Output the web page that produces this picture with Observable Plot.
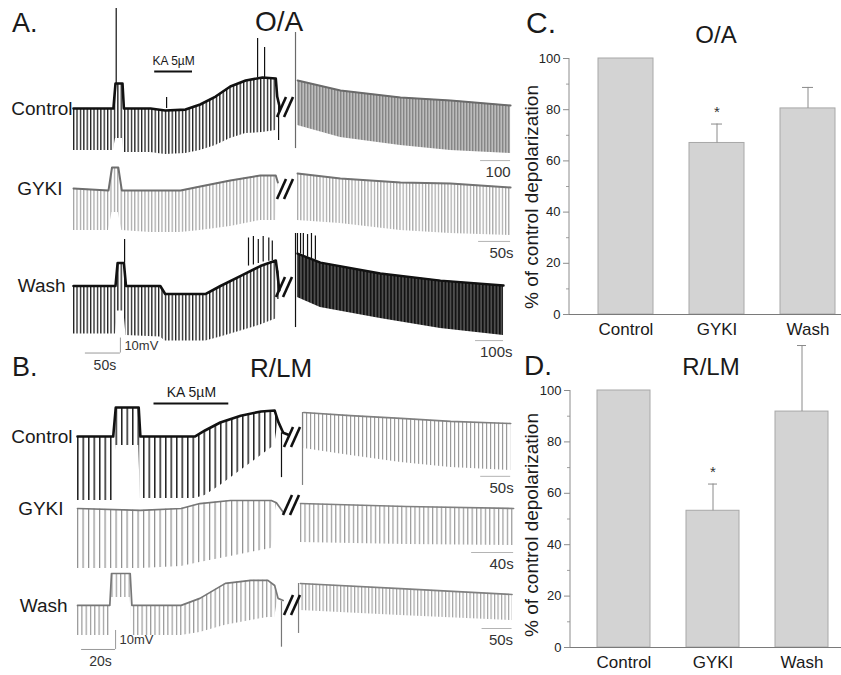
<!DOCTYPE html>
<html>
<head>
<meta charset="utf-8">
<script src="https://cdn.jsdelivr.net/npm/d3@7"></script>
<script src="https://cdn.jsdelivr.net/npm/@observablehq/plot@0.6"></script>
<style>
  body { margin: 0; background: #fff; overflow: hidden; }
  #fig { position: relative; width: 841px; height: 675px; overflow: hidden;
         font-family: Arial, "Liberation Sans", Helvetica, sans-serif; color: #1a1a1a; background: #fff; }
  .t { position: absolute; line-height: 1; white-space: nowrap; }
</style>
</head>
<body>
<svg width="0" height="0" style="position:absolute">
  <defs>
    <pattern id="pA" patternUnits="userSpaceOnUse" width="3.4" height="10"><rect width="1.3" height="10" fill="#1c1c1c"/></pattern>
    <pattern id="pAg" patternUnits="userSpaceOnUse" width="3.4" height="10"><rect width="1.2" height="10" fill="#a2a2a2"/></pattern>
    <pattern id="pAc2" patternUnits="userSpaceOnUse" width="3" height="10"><rect width="3" height="10" fill="#bdbdbd"/><rect width="1.4" height="10" fill="#858585"/></pattern>
    <pattern id="pAg2" patternUnits="userSpaceOnUse" width="3.2" height="10"><rect width="1.2" height="10" fill="#a6a6a6"/></pattern>
    <pattern id="pAw2" patternUnits="userSpaceOnUse" width="3.4" height="10"><rect width="3.4" height="10" fill="#4e4e4e"/><rect width="1.6" height="10" fill="#111"/></pattern>
    <pattern id="pB" patternUnits="userSpaceOnUse" width="5.5" height="10"><rect width="1.5" height="10" fill="#222"/></pattern>
    <pattern id="pBg" patternUnits="userSpaceOnUse" width="5.5" height="10"><rect width="1.2" height="10" fill="#8e8e8e"/></pattern>
    <pattern id="pBw" patternUnits="userSpaceOnUse" width="4.3" height="10"><rect width="1.2" height="10" fill="#999"/></pattern>
    <pattern id="pB2" patternUnits="userSpaceOnUse" width="4" height="10"><rect width="1.2" height="10" fill="#9a9a9a"/></pattern>
    <pattern id="pBg2" patternUnits="userSpaceOnUse" width="4.4" height="10"><rect width="1.2" height="10" fill="#9a9a9a"/></pattern>
    <pattern id="pBw2" patternUnits="userSpaceOnUse" width="3.5" height="10"><rect width="1.2" height="10" fill="#a3a3a3"/></pattern>
  </defs>
</svg>
<div id="fig"></div>
<script>
// ---------------- DATA ----------------
// Bar charts (C: O/A, D: R/LM) — % of control depolarization, mean and upper error
const categories = ["Control", "GYKI", "Wash"];
const oaMean  = [100, 67, 80.5];
const oaErr   = [0, 7.4, 8.2];
const oaSig   = [false, true, false];
const rlmMean = [100, 53.2, 91.8];
const rlmErr  = [0, 10.4, 25.7];
const rlmSig  = [false, true, false];
const yTicks = [0, 20, 40, 60, 80, 100];
const yMinorTicks = [10, 30, 50, 70, 90];

// Traces: [time s, upper envelope mV, lower envelope (pulse tips) mV], relative to rest
// Panel A (O/A), before break
const A_ctrl_pre = [[0,0,-28],[57,0,-28],[60,16.7,-20],[70,16.7,-20],[72,0,-29.3],[110,0,-29.3],[131,-1.3,-30.7],[160,-0.7,-30],[181,2.7,-28],[203,8,-24.7],[224,14.7,-20],[246,18.7,-16.7],[270,20.7,-16],[289,20,-14.7],[291,8,8],[295,0,0]];
const A_ctrl_pre_spikes = [[61,16.7,66.7],[133,0,7.3],[263,20.7,46.7],[273,20.7,40.7],[293,4,-21.3]];
const A_gyki_pre = [[0,0,-28],[50,-1.3,-28],[55,14,-16],[64,14,-16],[69,-1.3,-28],[110,-1.3,-29.3],[153,-1.3,-29.3],[181,1.3,-28],[224,5.3,-25.3],[267,8.7,-21.3],[289,8.7,-21.3],[292,4,4]];
const A_wash_pre = [[0,0,-32],[60,0,-32],[63,15.3,-16.7],[72,15.3,-16.7],[75,0,-33],[124,0,-34],[131,-5.3,-36.7],[189,-5.3,-36.7],[210,0,-34],[239,6.7,-30],[267,13.3,-26],[289,17,-22],[291,10,10],[294,-3,-3]];
const A_wash_pre_spikes = [[73,15.3,31],[250,13.3,32],[257,14,33],[264,15,31],[271,16,33],[279,16.5,32],[284,17,30],[292,10,-9]];
// Panel A, after break
const A_ctrl_post = [[0,18.7,-11.3],[143,12,-19.3],[343,7.3,-24.7],[510,5.3,-28],[710,2,-30]];
const A_ctrl_post_spikes = [[-7,50.7,-26.7]];
const A_gyki_post = [[0,10,-21.3],[67,6.7,-23.3],[161,4,-28],[239,3.3,-30],[333,0.7,-31.3]];
const A_wash_post = [[0,21.3,-8],[82,15.3,-14.7],[296,8,-22],[511,3.3,-28.7],[736,0,-33.3]];
const A_wash_post_spikes = [[0,21.3,34.7],[11,21,34.7],[21,20,34.7],[36,19,34],[50,18,34.7],[64,17,33],[-7,34.7,-28]];
// Panel B (R/LM), before break
const B_ctrl_pre = [[0,0,-33.7],[21,0,-33.7],[22.5,15.3,-4.7],[36,15.3,-4.7],[37,0,-32.6],[69,0,-32.6],[75,3.2,-31],[84,7.4,-25.8],[96,11,-17.9],[108,13.2,-10],[116,13.7,-4.7],[118,8,8],[121,2,2],[124,1,1]];
const B_ctrl_pre_spikes = [[120,2,-21.6]];
const B_gyki_pre = [[0,0,-31.6],[37,-1,-31.6],[61,0,-30.5],[72,2.6,-28.4],[90,4.2,-25.3],[114,4.2,-21],[117,3,3],[121,-2,-2]];
const B_wash_pre = [[0,0,-15.8],[19,0,-15.8],[20,16.8,4.2],[31,16.8,4.2],[32,0,-15.8],[61,0,-15.8],[72,3.7,-14.2],[87,11.6,-10.5],[102,13.2,-7.9],[112,13.2,-6.3],[116,10.5,-6.3],[118,3.7,3.7],[121,2.6,2.6]];
const B_wash_pre_spikes = [[120,2,-22]];
// Panel B, after break
const B_ctrl_post = [[0,12.6,-6.3],[78,11,-10],[162,9.5,-13.7],[245,7.9,-16.3],[345,6.8,-17.9]];
const B_ctrl_post_spikes = [[-2,12.6,-25.8]];
const B_gyki_post = [[0,2.6,-17.9],[101,1,-19],[203,0,-19.5]];
const B_wash_post = [[0,11.6,-2.6],[167,8.9,-5.3],[353,5.8,-7.9]];
const B_wash_post_spikes = [[-3,11.6,-14.7]];

// KA 5µM application (s)
const kaA = {start: 116, end: 170};
const kaB = {start: 45, end: 89};

// ---------------- LAYOUT ----------------
const fig = document.getElementById("fig");
const FONT = 'Arial, "Liberation Sans", Helvetica, sans-serif';
const plotStyle = {background: "none", overflow: "visible", maxWidth: "none", fontFamily: FONT};

function addText(text, {left, top, size, center = false}) {
  const d = document.createElement("div");
  d.className = "t";
  d.textContent = text;
  d.style.fontSize = size + "px";
  d.style.left = left + "px";
  d.style.top = top + "px";
  if (center) d.style.transform = "translateX(-50%)";
  fig.appendChild(d);
}

function buildTrace(s) {
  const rows = s.data.map(([t, top, bot]) => ({t, top, bot}));
  const spikes = (s.spikes || []).map(([t, from, to]) => ({t, from, to}));
  const ts = rows.map(d => d.t).concat(spikes.map(d => d.t));
  const vs = rows.flatMap(d => [d.top, d.bot]).concat(spikes.flatMap(d => [d.from, d.to]));
  const tmin = Math.min(0, d3.min(ts)), tmax = d3.max(rows, d => d.t);
  const vmin = d3.min(vs), vmax = d3.max(vs);
  const width = (tmax - tmin) * s.pxs, height = (vmax - vmin) * s.pxv;
  const marks = [
    Plot.areaY(rows, {x: "t", y1: "bot", y2: "top", fill: s.fill}),
    Plot.lineY(rows, {x: "t", y: "top", stroke: s.stroke, strokeWidth: s.sw}),
    Plot.ruleX(spikes, {x: "t", y1: "from", y2: "to", stroke: s.stroke, strokeWidth: 1.2})
  ];
  if (s.label) {
    marks.push(Plot.text([s.label], {frameAnchor: "left", y: () => 0, text: d => d, textAnchor: "end",
      dx: s.labelDx, fontSize: 19, fill: "#1a1a1a"}));
  }
  if (s.ka) {
    marks.push(Plot.ruleY([s.ka], {x1: "start", x2: "end", y: () => s.kaLevel, stroke: "#111", strokeWidth: 1.8}));
    marks.push(Plot.text([s.ka], {x: d => (d.start + d.end) / 2, y: () => s.kaLevel, text: () => "KA 5µM",
      dy: s.kaDy, fontSize: s.kaSize, fill: "#1a1a1a"}));
  }
  if (s.sbar) {
    const b = s.sbar;
    marks.push(Plot.ruleY([b], {x1: d => tmax - d.len, x2: () => tmax, y: "v", stroke: "#b4b4b4", strokeWidth: 1}));
    marks.push(Plot.text([b], {x: () => tmax, y: "v", text: "text", textAnchor: "end", dx: b.dx || 0, dy: 12,
      fontSize: 15, fill: "#333"}));
  }
  if (s.calib) {
    const c = s.calib;
    marks.push(Plot.ruleY([c], {x1: "t", x2: d => d.t + d.dur, y: "v", stroke: "#999"}));
    marks.push(Plot.ruleX([c], {x: d => d.t + d.dur, y1: "v", y2: d => d.v + d.mv, stroke: "#999"}));
    marks.push(Plot.text([c], {x: d => d.t + d.dur, y: d => d.v + d.mv / 2, text: d => d.mv + "mV",
      textAnchor: "start", dx: 4, fontSize: 13, fill: "#333"}));
    marks.push(Plot.text([c], {x: d => d.t + d.dur / 2, y: "v", text: d => d.dur + "s", dx: 2, dy: 12,
      fontSize: 14, fill: "#333"}));
  }
  const svg = Plot.plot({
    width, height, marginTop: 0, marginRight: 0, marginBottom: 0, marginLeft: 0,
    x: {domain: [tmin, tmax], axis: null},
    y: {domain: [vmin, vmax], axis: null},
    style: plotStyle,
    marks
  });
  svg.style.position = "absolute";
  svg.style.left = (s.x0 + tmin * s.pxs) + "px";
  svg.style.top = (s.base - vmax * s.pxv) + "px";
  fig.appendChild(svg);
}

const traces = [
  // Panel A pre-break: 0.7 px/s, 1.5 px/mV
  {data: A_ctrl_pre, spikes: A_ctrl_pre_spikes, x0: 73, base: 108, pxs: 0.7, pxv: 1.5, fill: "url(#pA)", stroke: "#111", sw: 2.6,
   label: "Control", labelDx: -1, ka: kaA, kaLevel: 24.7, kaDy: -10, kaSize: 12},
  {data: A_gyki_pre, x0: 73, base: 188, pxs: 0.7, pxv: 1.5, fill: "url(#pAg)", stroke: "#6e6e6e", sw: 2, label: "GYKI", labelDx: -11},
  {data: A_wash_pre, spikes: A_wash_pre_spikes, x0: 73, base: 285, pxs: 0.7, pxv: 1.5, fill: "url(#pA)", stroke: "#111", sw: 2.6,
   label: "Wash", labelDx: -8, calib: {t: 17, dur: 50, v: -44.7, mv: 10}},
  // Panel A post-break
  {data: A_ctrl_post, spikes: A_ctrl_post_spikes, x0: 297, base: 108, pxs: 0.3, pxv: 1.5, fill: "url(#pAc2)", stroke: "#6a6a6a", sw: 2,
   sbar: {len: 100, text: "100", v: -34.7, dx: 0}},
  {data: A_gyki_post, x0: 297, base: 188, pxs: 0.64, pxv: 1.5, fill: "url(#pAg2)", stroke: "#727272", sw: 2,
   sbar: {len: 50, text: "50s", v: -35.3, dx: 3}},
  {data: A_wash_post, spikes: A_wash_post_spikes, x0: 297, base: 285, pxs: 0.28, pxv: 1.5, fill: "url(#pAw2)", stroke: "#111", sw: 2.4,
   sbar: {len: 100, text: "100s", v: -36.7, dx: 9}},
  // Panel B pre-break: 1.7 px/s, 1.9 px/mV
  {data: B_ctrl_pre, spikes: B_ctrl_pre_spikes, x0: 77, base: 436, pxs: 1.7, pxv: 1.9, fill: "url(#pB)", stroke: "#111", sw: 2.6,
   label: "Control", labelDx: -5, ka: kaB, kaLevel: 17.4, kaDy: -11, kaSize: 14},
  {data: B_gyki_pre, x0: 77, base: 508, pxs: 1.7, pxv: 1.9, fill: "url(#pBg)", stroke: "#777", sw: 1.7, label: "GYKI", labelDx: -14},
  {data: B_wash_pre, spikes: B_wash_pre_spikes, x0: 77, base: 605, pxs: 1.7, pxv: 1.9, fill: "url(#pBw)", stroke: "#777", sw: 1.7,
   label: "Wash", labelDx: -10, calib: {t: 2.4, dur: 20, v: -23.2, mv: 10}},
  // Panel B post-break
  {data: B_ctrl_post, spikes: B_ctrl_post_spikes, x0: 303, base: 436, pxs: 0.6, pxv: 1.9, fill: "url(#pB2)", stroke: "#808080", sw: 1.7,
   sbar: {len: 50, text: "50s", v: -21, dx: 3}},
  {data: B_gyki_post, x0: 300, base: 508, pxs: 1.05, pxv: 1.9, fill: "url(#pBg2)", stroke: "#808080", sw: 1.6,
   sbar: {len: 40, text: "40s", v: -23.2, dx: 0}},
  {data: B_wash_post, spikes: B_wash_post_spikes, x0: 300, base: 605, pxs: 0.6, pxv: 1.9, fill: "url(#pBw2)", stroke: "#808080", sw: 1.6,
   sbar: {len: 50, text: "50s", v: -12.1, dx: 1}}
];
traces.forEach(buildTrace);

// break marks "//" drawn as two slanted strokes
(function () {
  const NS = "http://www.w3.org/2000/svg";
  const svg = document.createElementNS(NS, "svg");
  svg.setAttribute("width", 841); svg.setAttribute("height", 675);
  svg.style.position = "absolute"; svg.style.left = "0px"; svg.style.top = "0px"; svg.style.pointerEvents = "none";
  [[285, 107], [285, 189], [284, 287], [292, 437], [291, 505], [292, 605]].forEach(([x, y]) => {
    [-3.5, 3.5].forEach(off => {
      const l = document.createElementNS(NS, "line");
      l.setAttribute("x1", x + off - 4.5); l.setAttribute("y1", y + 10);
      l.setAttribute("x2", x + off + 4.5); l.setAttribute("y2", y - 10);
      l.setAttribute("stroke", "#111"); l.setAttribute("stroke-width", 2.6);
      svg.appendChild(l);
    });
  });
  fig.appendChild(svg);
})();

// ---------------- BAR CHARTS ----------------
function barPanel({means, errs, sig, left, top, width, height, marginTop, marginBottom, marginLeft, xRange}) {
  const rows = categories.map((cat, i) => ({cat, mean: means[i], err: errs[i], sig: sig[i]}));
  const withErr = rows.filter(d => d.err > 0);
  const yAxisLine = (index, scales, values, dims) => {
    const l = document.createElementNS("http://www.w3.org/2000/svg", "line");
    l.setAttribute("x1", dims.marginLeft); l.setAttribute("x2", dims.marginLeft);
    l.setAttribute("y1", dims.marginTop); l.setAttribute("y2", dims.height - dims.marginBottom);
    l.setAttribute("stroke", "#8c8c8c");
    return l;
  };
  const svg = Plot.plot({
    width, height, marginTop, marginBottom, marginLeft, marginRight: 0,
    x: {domain: categories, range: xRange, paddingInner: 0.4, paddingOuter: 0.3, label: null},
    y: {domain: [0, 100], label: null},
    style: plotStyle,
    marks: [
      Plot.barY(rows, {x: "cat", y: "mean", fill: "#d3d3d3", stroke: "#a8a8a8", strokeWidth: 1}),
      Plot.ruleX(withErr, {x: "cat", y1: "mean", y2: d => d.mean + d.err, stroke: "#8a8a8a"}),
      Plot.tickY(withErr, {x: "cat", y: d => d.mean + d.err, stroke: "#8a8a8a", insetLeft: 22, insetRight: 22}),
      Plot.text(rows.filter(d => d.sig), {x: "cat", y: d => d.mean + d.err, text: () => "*", dy: -12, fontSize: 15, fill: "#333"}),
      Plot.ruleY([0], {stroke: "#7a7a7a"}),
      Plot.axisY({ticks: yTicks, tickSize: 6, tickPadding: 3, fontSize: 13, stroke: "#8c8c8c", fill: "#222", label: null}),
      Plot.axisY({ticks: yMinorTicks, tickSize: 3, tickFormat: () => "", stroke: "#a0a0a0", label: null}),
      Plot.axisX({tickSize: 0, tickPadding: 8, fontSize: 17, fill: "#1a1a1a", label: null}),
      yAxisLine
    ]
  });
  svg.style.position = "absolute";
  svg.style.left = left + "px";
  svg.style.top = top + "px";
  fig.appendChild(svg);
}

barPanel({means: oaMean, errs: oaErr, sig: oaSig, left: 520, top: 40, width: 321, height: 310,
  marginTop: 18, marginBottom: 36, marginLeft: 49, xRange: [49, 343.4]});
barPanel({means: rlmMean, errs: rlmErr, sig: rlmSig, left: 520, top: 330, width: 321, height: 345,
  marginTop: 60, marginBottom: 28, marginLeft: 50, xRange: [50, 336]});

// y-axis titles
[[531, 197], [531, 525]].forEach(([x, y]) => {
  const d = document.createElement("div");
  d.className = "t";
  d.textContent = "% of control depolarization";
  d.style.fontSize = "19px";
  d.style.left = x + "px";
  d.style.top = y + "px";
  d.style.transform = "translate(-50%, -50%) rotate(-90deg)";
  fig.appendChild(d);
});

// panel letters & titles
addText("A.", {left: 12, top: 10, size: 27});
addText("O/A", {left: 279, top: 8, size: 28, center: true});
addText("B.", {left: 12, top: 354, size: 27});
addText("R/LM", {left: 281, top: 355, size: 26, center: true});
addText("C.", {left: 526, top: 8, size: 30});
addText("O/A", {left: 716, top: 23, size: 24, center: true});
addText("D.", {left: 524, top: 352, size: 28});
addText("R/LM", {left: 711, top: 355, size: 24, center: true});
</script>
</body>
</html>
